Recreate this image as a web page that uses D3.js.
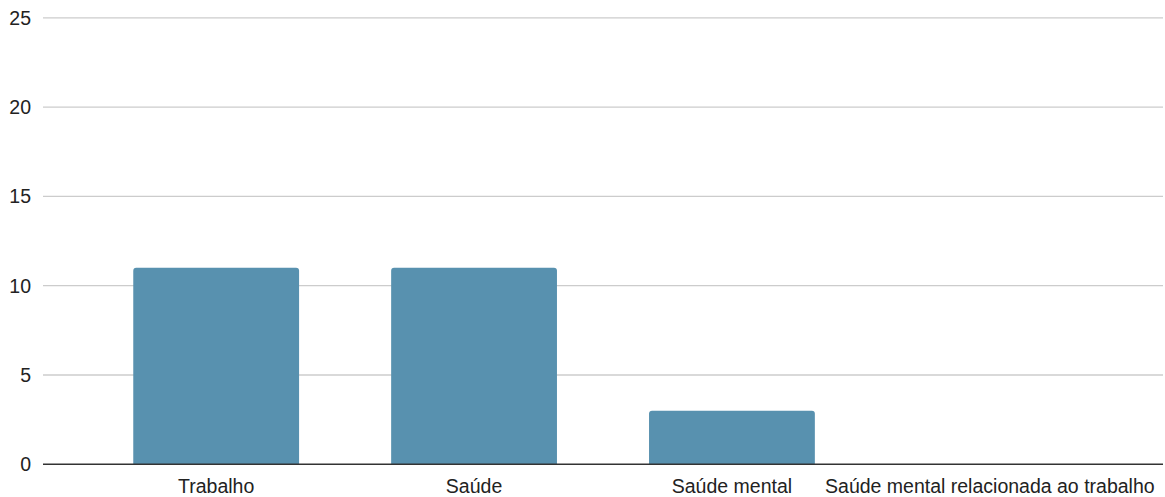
<!DOCTYPE html>
<html>
<head>
<meta charset="utf-8">
<script src="https://cdn.jsdelivr.net/npm/d3@7"></script>
<style>
  body { margin: 0; background: #fff; }
  svg text { font-family: "Liberation Sans", Arial, sans-serif; fill: #222; }
</style>
</head>
<body>
<div id="chart"></div>
<script>
const categories = ["Trabalho", "Saúde", "Saúde mental", "Saúde mental relacionada ao trabalho"];
const values = [11, 11, 3, 0];
const yTicks = [0, 5, 10, 15, 20, 25];

const width = 1165, height = 497;
const plotLeft = 43, plotRight = 1163, plotTop = 17.8, plotBottom = 464.3;

const svg = d3.select("#chart")
    .append("svg")
    .attr("width", width)
    .attr("height", height);

const x = d3.scaleBand()
    .domain(categories)
    .range([plotLeft, plotRight])
    .paddingInner(0.357)
    .paddingOuter(0.35);

const y = d3.scaleLinear()
    .domain([0, 25])
    .range([plotBottom, plotTop]);

// gridlines
svg.append("g")
    .selectAll("line")
    .data(yTicks.filter(d => d > 0))
    .join("line")
    .attr("x1", plotLeft)
    .attr("x2", plotRight)
    .attr("y1", d => y(d))
    .attr("y2", d => y(d))
    .attr("stroke", "#cccccc")
    .attr("stroke-width", 1.3);

// y tick labels
svg.append("g")
    .selectAll("text")
    .data(yTicks)
    .join("text")
    .attr("x", 31)
    .attr("y", d => y(d))
    .attr("dy", "0.35em")
    .attr("text-anchor", "end")
    .attr("font-size", 19.5)
    .text(d => d);

// bars with rounded top corners
const r = 3;
svg.append("g")
    .selectAll("path")
    .data(categories.map((c, i) => ({ cat: c, val: values[i] })).filter(d => d.val > 0))
    .join("path")
    .attr("fill", "#5891af")
    .attr("d", d => {
        const x0 = x(d.cat), x1 = x0 + x.bandwidth();
        const y0 = y(0), y1 = y(d.val);
        return `M${x0},${y0}V${y1 + r}Q${x0},${y1} ${x0 + r},${y1}H${x1 - r}Q${x1},${y1} ${x1},${y1 + r}V${y0}Z`;
    });

// baseline
svg.append("line")
    .attr("x1", plotLeft)
    .attr("x2", plotRight)
    .attr("y1", y(0))
    .attr("y2", y(0))
    .attr("stroke", "#333333")
    .attr("stroke-width", 1.5);

// x labels
svg.append("g")
    .selectAll("text")
    .data(categories)
    .join("text")
    .attr("x", d => x(d) + x.bandwidth() / 2)
    .attr("y", 493)
    .attr("text-anchor", "middle")
    .attr("font-size", 19.5)
    .text(d => d);
</script>
</body>
</html>
